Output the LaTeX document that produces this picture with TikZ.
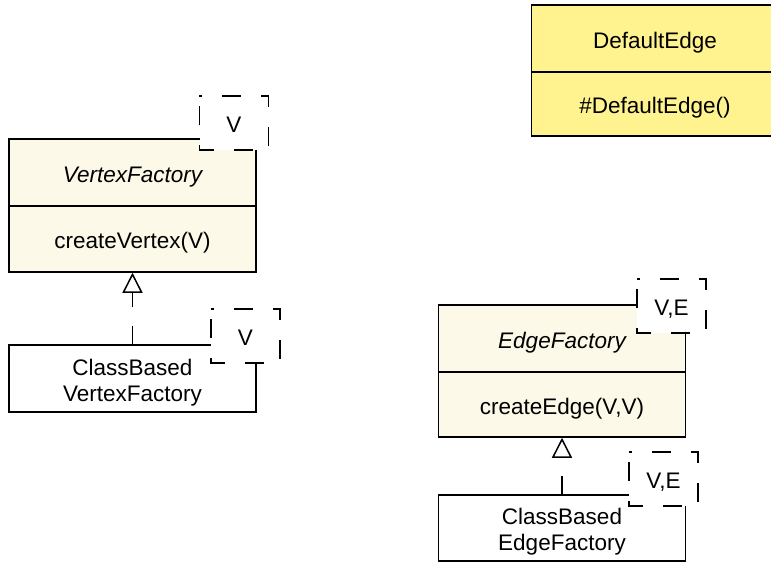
\documentclass[tikz,border=0pt]{standalone}
\usepackage{fontspec}
\setmainfont{Liberation Sans}
\usetikzlibrary{arrows.meta}
\definecolor{cream}{RGB}{253,249,233}
\definecolor{yel}{RGB}{255,243,143}
\tikzset{
  comptext/.style={font=\fontsize{22.5}{26}\selectfont},
  comp/.style={draw=black, line width=1.5pt, minimum width=247pt, inner sep=0pt, anchor=center, comptext, text height=19pt, text depth=0pt},
  twoline/.style={label={[comptext, align=center, yshift=-4pt]center:#1}},
  tplfill/.style={fill=white, minimum width=69pt, minimum height=54pt, inner sep=0pt, comptext, text height=19pt, text depth=0pt},
  tplline/.style={line width=1.5pt, dash pattern=on 19pt off 20pt, dash phase=16pt},
  inherit/.style={line width=1.5pt, dash pattern=on 18pt off 19pt, -{Triangle[length=20pt, width=20pt, fill=white, line width=1.5pt]}}
}
\newcommand{\tplbox}[3]{%
  \node[tplfill] (#1) at (#2) {#3};
  \draw[tplline] (#1.north west) -- (#1.north east) -- (#1.south east) -- (#1.south west) -- cycle;
}
\begin{document}
\begin{tikzpicture}[x=1pt,y=-1pt]
\useasboundingbox (0,0) rectangle (771,563);
\begin{scope}
\clip (0,0) rectangle (771,563);
% DefaultEdge
\node[comp, fill=yel, minimum height=67pt] (det) at (655,38.5) {DefaultEdge};
\node[comp, fill=yel, minimum height=64pt] (dem) at (655,104) {\#DefaultEdge()};
\end{scope}
% VertexFactory
\node[comp, fill=cream, minimum height=67pt] (vft) at (132.5,172.5) {\itshape VertexFactory};
\node[comp, fill=cream, minimum height=66pt] (vfm) at (132.5,239) {createVertex(V)};
\tplbox{vtpl}{234,123}{V}
% ClassBasedVertexFactory
\node[comp, fill=white, minimum height=67pt, twoline={ClassBased\\VertexFactory}] (cbv) at (132.5,378.5) {};
\tplbox{cbvtpl}{245.5,336}{V}
% EdgeFactory
\node[comp, fill=cream, minimum height=67pt] (eft) at (562,338.5) {\itshape EdgeFactory};
\node[comp, fill=cream, minimum height=65pt] (efm) at (562,404.5) {createEdge(V,V)};
\tplbox{etpl}{671.5,306}{V,E}
% ClassBasedEdgeFactory
\node[comp, fill=white, minimum height=66pt, twoline={ClassBased\\EdgeFactory}] (cbe) at (562,528) {};
\tplbox{cbetpl}{663.5,479}{V,E}
% inheritance
\draw[inherit] (cbv.north) -- (vfm.south);
\draw[inherit] (cbe.north) -- (efm.south);
\end{tikzpicture}
\end{document}
